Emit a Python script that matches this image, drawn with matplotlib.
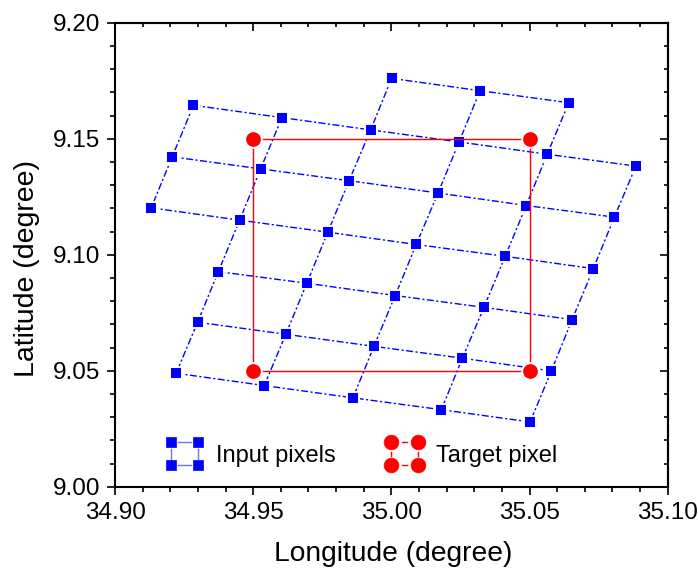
import numpy as np
import matplotlib
matplotlib.use("Agg")
import matplotlib.pyplot as plt
from matplotlib.lines import Line2D
from matplotlib.legend_handler import HandlerBase
from matplotlib.ticker import MultipleLocator, FormatStrFormatter

plt.rcParams['font.family'] = ['Liberation Sans', 'DejaVu Sans']

# input pixel centres, one list per grid row (top row first)
rows_lon = [
    [35.0001, 35.0321, 35.0642],
    [34.9284, 34.9604, 34.9925, 35.0245, 35.0564, 35.0885],
    [34.9207, 34.9527, 34.9847, 35.0169, 35.0488, 35.0807],
    [34.9131, 34.9451, 34.9770, 35.0090, 35.0412, 35.0731],
    [34.9374, 34.9694, 35.0014, 35.0335, 35.0654],
    [34.9299, 34.9618, 34.9937, 35.0257, 35.0579],
    [34.9221, 34.9540, 34.9861, 35.0181, 35.0502],
]
rows_lat = [
    [9.1760, 9.1707, 9.1655],
    [9.1644, 9.1591, 9.1538, 9.1486, 9.1433, 9.1382],
    [9.1422, 9.1370, 9.1319, 9.1266, 9.1212, 9.1162],
    [9.1202, 9.1149, 9.1097, 9.1044, 9.0993, 9.0940],
    [9.0927, 9.0877, 9.0824, 9.0773, 9.0720],
    [9.0709, 9.0657, 9.0605, 9.0554, 9.0499],
    [9.0489, 9.0436, 9.0383, 9.0332, 9.0279],
]
# grid column index of the first pixel in each row
row_first_col = [2, 0, 0, 0, 1, 1, 1]

# target pixel corners
target_lon = [34.95, 35.05, 35.05, 34.95, 34.95]
target_lat = [9.05, 9.05, 9.15, 9.15, 9.05]


class CornerHandler(HandlerBase):
    """legend icon: four markers on the corners of a small square"""
    def __init__(self, link_color, link_frac, **kw):
        super().__init__(**kw)
        self.link_color = link_color
        self.link_frac = link_frac

    def create_artists(self, legend, orig_handle, xdescent, ydescent,
                       width, height, fontsize, trans):
        x0 = -xdescent
        x1 = x0 + width
        yc = -ydescent + height / 2
        dy = 0.42 * width
        y0, y1 = yc - dy, yc + dy
        f = self.link_frac
        arts = []
        for yy in (y0, y1):
            arts.append(Line2D([x0 + (0.5 - f / 2) * width, x0 + (0.5 + f / 2) * width],
                               [yy, yy], color=self.link_color, lw=1.0))
        for xx in (x0, x1):
            arts.append(Line2D([xx, xx], [yc - f * dy, yc + f * dy],
                               color=self.link_color, lw=1.0))
        arts.append(Line2D([x0, x1, x0, x1], [y0, y0, y1, y1], ls='none',
                           marker=orig_handle.get_marker(),
                           markersize=orig_handle.get_markersize(),
                           markerfacecolor=orig_handle.get_markerfacecolor(),
                           markeredgecolor=orig_handle.get_markerfacecolor(),
                           markeredgewidth=0.5))
        for a in arts:
            a.set_transform(trans)
        return arts


fig = plt.figure(figsize=(6.98, 5.76), dpi=100)
ax = fig.add_axes([0.16476, 0.15503, 0.79183, 0.80556])

dash = (0, (5.0, 1.8, 1.5, 1.8))

# row lines
for lon, lat in zip(rows_lon, rows_lat):
    ax.plot(lon, lat, color='blue', lw=1.0, ls=dash, zorder=2)

# column lines
cols = {}
for lon, lat, c0 in zip(rows_lon, rows_lat, row_first_col):
    for k, (x, y) in enumerate(zip(lon, lat)):
        cols.setdefault(c0 + k, []).append((x, y))
for c in sorted(cols):
    pts = np.array(cols[c])
    ax.plot(pts[:, 0], pts[:, 1], color='blue', lw=1.0, ls=dash, zorder=2)

all_lon = np.concatenate([np.array(r) for r in rows_lon])
all_lat = np.concatenate([np.array(r) for r in rows_lat])
ax.plot(all_lon, all_lat, ls='none', marker='s', markersize=8.3,
        markerfacecolor='blue', markeredgecolor='white',
        markeredgewidth=1.4, zorder=3)

ax.plot(target_lon, target_lat, color='red', lw=1.0, zorder=4)
ax.plot(target_lon[:4], target_lat[:4], ls='none', marker='o',
        markersize=12.0, markerfacecolor='red',
        markeredgecolor='white', markeredgewidth=1.4, zorder=5)

proxy_blue = Line2D([], [], ls='none', marker='s', markersize=6.8,
                    markerfacecolor='blue')
proxy_red = Line2D([], [], ls='none', marker='o', markersize=10.6,
                   markerfacecolor='red')
ax.legend([proxy_blue, proxy_red], ['Input pixels', 'Target pixel'],
          handler_map={proxy_blue: CornerHandler('#7070ff', 0.45),
                       proxy_red: CornerHandler('red', 0.18)},
          loc='center left', bbox_to_anchor=(0.1013, 0.066), ncol=2,
          frameon=False, borderpad=0, borderaxespad=0, handlelength=1.15,
          handletextpad=0.75, columnspacing=2.35, fontsize=17)

ax.set_xlim(34.90, 35.10)
ax.set_ylim(9.00, 9.20)
ax.xaxis.set_major_locator(MultipleLocator(0.05))
ax.xaxis.set_minor_locator(MultipleLocator(0.01))
ax.yaxis.set_major_locator(MultipleLocator(0.05))
ax.yaxis.set_minor_locator(MultipleLocator(0.01))
ax.xaxis.set_major_formatter(FormatStrFormatter('%.2f'))
ax.yaxis.set_major_formatter(FormatStrFormatter('%.2f'))

for s in ax.spines.values():
    s.set_linewidth(1.5)

ax.tick_params(which='both', direction='out', width=1.2, labelsize=17.5, pad=5)
ax.tick_params(which='major', length=5.8)
ax.tick_params(which='minor', length=3.6)

# inward ticks on top and right
top = ax.secondary_xaxis('top')
right = ax.secondary_yaxis('right')
for sec, axis in ((top, top.xaxis), (right, right.yaxis)):
    axis.set_major_locator(MultipleLocator(0.05))
    axis.set_minor_locator(MultipleLocator(0.01))
    sec.tick_params(which='both', direction='in', width=1.2, labelsize=0)
    sec.tick_params(which='major', length=6.0)
    sec.tick_params(which='minor', length=3.2)
    axis.set_ticklabels([])
    for s in sec.spines.values():
        s.set_linewidth(1.5)

ax.set_xlabel('Longitude (degree)', fontsize=20.3)
ax.set_ylabel('Latitude (degree)', fontsize=20.5)
ax.xaxis.set_label_coords(0.5025, -0.118)
ax.yaxis.set_label_coords(-0.1357, 0.4713)

fig.savefig('out.png', dpi=100)
